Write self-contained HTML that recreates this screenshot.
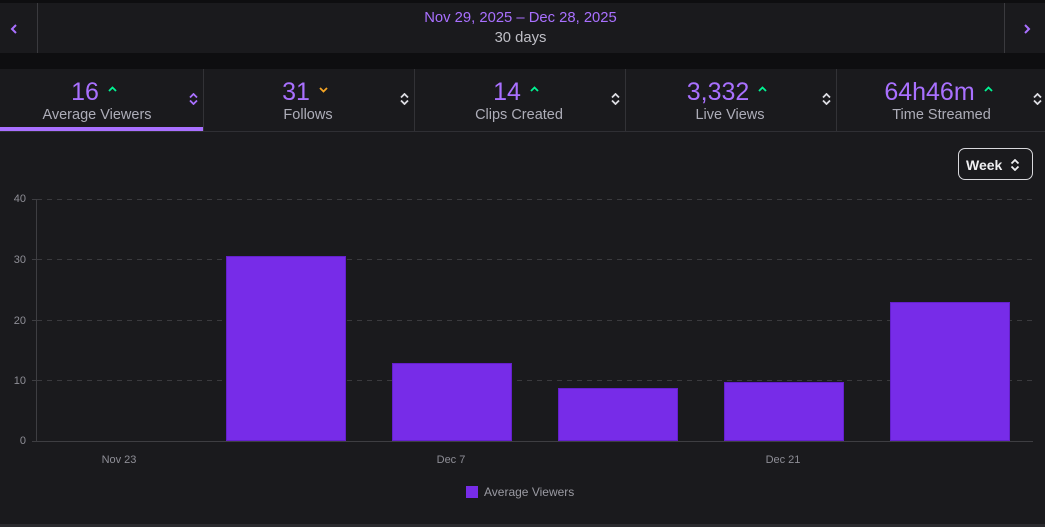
<!DOCTYPE html>
<html><head><meta charset="utf-8">
<style>
*{margin:0;padding:0;box-sizing:border-box}
html,body{width:1045px;height:527px;overflow:hidden;background:#0e0e10;font-family:"Liberation Sans",sans-serif}
.abs{position:absolute}
#hdr{left:0;top:3px;width:1045px;height:50px;background:#1a1a1d}
#stats{left:0;top:69px;width:1045px;height:63px;background:#1a1a1d;border-bottom:1px solid #2f2f34}
.tab{position:absolute;top:0;height:62px;width:211px;border-right:1px solid #323236}
.num{position:absolute;left:-4px;width:100%;top:8px;height:30px;display:flex;justify-content:center;align-items:center;color:#a970ff;font-size:25px;line-height:30px}
.num svg{margin-left:9px;margin-top:-6px}
.lbl{position:absolute;left:-1px;width:100%;top:37px;text-align:center;color:#adadb8;font-size:14.5px;line-height:18px}
.sort{position:absolute;left:196px;top:24px}
#chart{left:0;top:132px;width:1045px;height:392px;background:#1a1a1d}
#bot{left:0;top:524px;width:1045px;height:3px;background:#2a2a2e}
</style></head><body>
<div class="abs" id="hdr">
  <div class="abs" style="left:37px;top:0;width:1px;height:50px;background:#3a3a3e"></div>
  <div class="abs" style="left:1004px;top:0;width:1px;height:50px;background:#3a3a3e"></div>
  <svg class="abs" style="left:10px;top:20px" width="10" height="12"><polyline points="6,2 2,6 6,10" fill="none" stroke="#a970ff" stroke-width="2"/></svg>
  <svg class="abs" style="left:1022px;top:20px" width="10" height="12"><polyline points="3,2 7,6 3,10" fill="none" stroke="#a970ff" stroke-width="2"/></svg>
  <div class="abs" style="left:0;width:1041px;top:6px;text-align:center;color:#a970ff;font-size:14.8px;line-height:18px">Nov 29, 2025 – Dec 28, 2025</div>
  <div class="abs" style="left:0;width:1041px;top:26px;text-align:center;color:#bfbfc6;font-size:14.8px;line-height:18px">30 days</div>
</div>

<div class="abs" id="stats">
  <div class="tab" style="left:-7px">
    <div class="num">16<svg width="9" height="6"><polyline points="1,5 4.5,1.5 8,5" fill="none" stroke="#00f593" stroke-width="1.8"/></svg></div>
    <div class="lbl">Average Viewers</div>
    <svg class="sort" width="9" height="12"><polyline points="1,4.5 4.5,1 8,4.5" fill="none" stroke="#a970ff" stroke-width="1.8"/><polyline points="1,7.5 4.5,11 8,7.5" fill="none" stroke="#a970ff" stroke-width="1.8"/></svg>
    <div class="abs" style="left:0;top:58px;width:210px;height:4px;background:#a970ff"></div>
  </div>
  <div class="tab" style="left:204px">
    <div class="num">31<svg width="9" height="6" style="margin-top:-4px"><polyline points="1,1 4.5,4.5 8,1" fill="none" stroke="#f5a524" stroke-width="1.8"/></svg></div>
    <div class="lbl">Follows</div>
    <svg class="sort" width="9" height="12"><polyline points="1,4.5 4.5,1 8,4.5" fill="none" stroke="#dedee3" stroke-width="1.8"/><polyline points="1,7.5 4.5,11 8,7.5" fill="none" stroke="#dedee3" stroke-width="1.8"/></svg>
  </div>
  <div class="tab" style="left:415px">
    <div class="num">14<svg width="9" height="6"><polyline points="1,5 4.5,1.5 8,5" fill="none" stroke="#00f593" stroke-width="1.8"/></svg></div>
    <div class="lbl">Clips Created</div>
    <svg class="sort" width="9" height="12"><polyline points="1,4.5 4.5,1 8,4.5" fill="none" stroke="#dedee3" stroke-width="1.8"/><polyline points="1,7.5 4.5,11 8,7.5" fill="none" stroke="#dedee3" stroke-width="1.8"/></svg>
  </div>
  <div class="tab" style="left:626px">
    <div class="num">3,332<svg width="9" height="6"><polyline points="1,5 4.5,1.5 8,5" fill="none" stroke="#00f593" stroke-width="1.8"/></svg></div>
    <div class="lbl">Live Views</div>
    <svg class="sort" width="9" height="12"><polyline points="1,4.5 4.5,1 8,4.5" fill="none" stroke="#dedee3" stroke-width="1.8"/><polyline points="1,7.5 4.5,11 8,7.5" fill="none" stroke="#dedee3" stroke-width="1.8"/></svg>
  </div>
  <div class="tab" style="left:837px;border-right:none">
    <div class="num">64h46m<svg width="9" height="6"><polyline points="1,5 4.5,1.5 8,5" fill="none" stroke="#00f593" stroke-width="1.8"/></svg></div>
    <div class="lbl">Time Streamed</div>
    <svg class="sort" width="9" height="12"><polyline points="1,4.5 4.5,1 8,4.5" fill="none" stroke="#dedee3" stroke-width="1.8"/><polyline points="1,7.5 4.5,11 8,7.5" fill="none" stroke="#dedee3" stroke-width="1.8"/></svg>
  </div>
</div>

<div class="abs" id="chart">
  <div class="abs" style="left:958px;top:16px;width:75px;height:32px;border:1px solid #d8d8dc;border-radius:7px"></div>
  <div class="abs" style="left:966px;top:24px;color:#efeff1;font-size:14px;font-weight:bold;line-height:18px">Week</div>
  <svg class="abs" style="left:1010px;top:27px" width="10" height="12"><polyline points="1.5,4.5 5,1 8.5,4.5" fill="none" stroke="#efeff1" stroke-width="1.8"/><polyline points="1.5,7.5 5,11 8.5,7.5" fill="none" stroke="#efeff1" stroke-width="1.8"/></svg>
</div>

<svg class="abs" style="left:0;top:0" width="1045" height="527">
  <g stroke="#3a3a3e" stroke-width="1" stroke-dasharray="5 5">
    <line x1="37" y1="199.5" x2="1033" y2="199.5"/>
    <line x1="37" y1="259.5" x2="1033" y2="259.5"/>
    <line x1="37" y1="320.5" x2="1033" y2="320.5"/>
    <line x1="37" y1="380.5" x2="1033" y2="380.5"/>
  </g>
  <g stroke="#3e3e42" stroke-width="1">
    <line x1="36.5" y1="199" x2="36.5" y2="441"/>
    <line x1="32" y1="199.5" x2="36" y2="199.5"/>
    <line x1="32" y1="259.5" x2="36" y2="259.5"/>
    <line x1="32" y1="320.5" x2="36" y2="320.5"/>
    <line x1="32" y1="380.5" x2="36" y2="380.5"/>
    <line x1="32" y1="441.5" x2="1033" y2="441.5"/>
  </g>
  <g fill="#772ce8" stroke="#6420cc" stroke-width="1">
    <rect x="226.5" y="256.5" width="119" height="184"/>
    <rect x="392.5" y="363.5" width="119" height="77"/>
    <rect x="558.5" y="388.5" width="119" height="52"/>
    <rect x="724.5" y="382.5" width="119" height="58"/>
    <rect x="890.5" y="302.5" width="119" height="138"/>
  </g>
  <g fill="#8e8e96" font-family="Liberation Sans, sans-serif" font-size="11" text-anchor="end">
    <text x="26" y="202">40</text>
    <text x="26" y="263">30</text>
    <text x="26" y="324">20</text>
    <text x="26" y="384">10</text>
    <text x="26" y="444">0</text>
  </g>
  <g fill="#8e8e96" font-family="Liberation Sans, sans-serif" font-size="11" text-anchor="middle">
    <text x="119" y="463">Nov 23</text>
    <text x="451" y="463">Dec 7</text>
    <text x="783" y="463">Dec 21</text>
  </g>
  <rect x="466" y="486" width="12" height="12" fill="#772ce8"/>
  <text x="484" y="496" fill="#9a9aa2" font-family="Liberation Sans, sans-serif" font-size="12">Average Viewers</text>
</svg>
<div class="abs" id="bot"></div>
</body></html>
